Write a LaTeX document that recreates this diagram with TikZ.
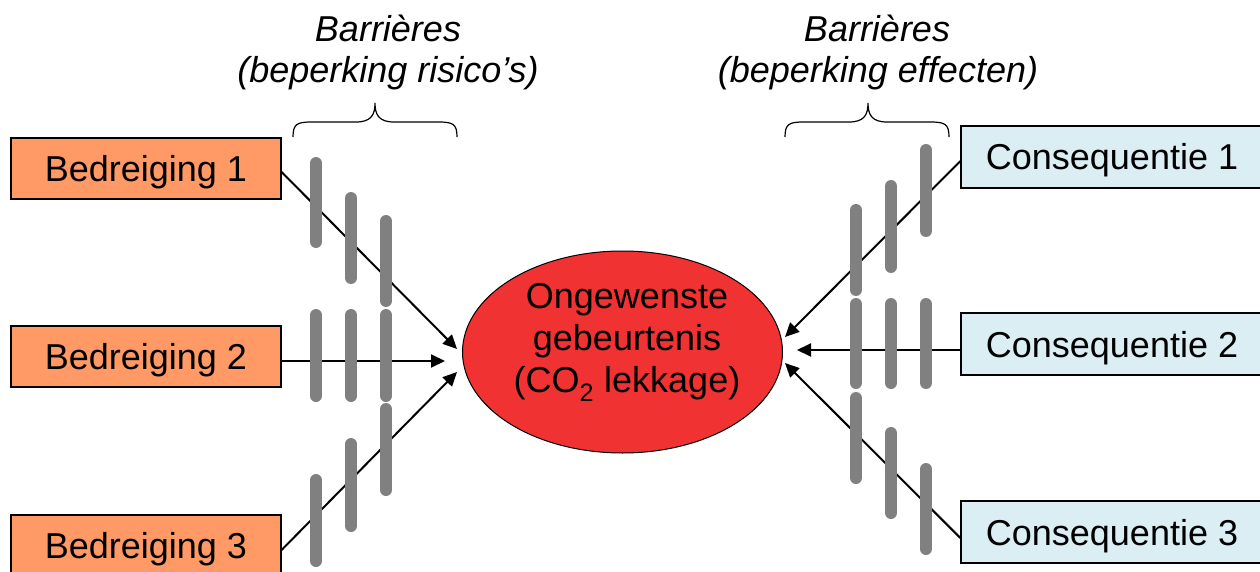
\documentclass[tikz,border=0pt]{standalone}
\usepackage{fontspec}
\setmainfont{Liberation Sans}
\usetikzlibrary{arrows.meta,shapes.geometric}
\definecolor{threatfill}{HTML}{FF9966}
\definecolor{consfill}{HTML}{DAEEF3}
\definecolor{eventfill}{HTML}{F03232}
\definecolor{barriergray}{HTML}{808080}
\tikzset{
  bigfont/.style={font=\fontsize{36}{42}\selectfont},
  threatbox/.style={draw=black, line width=1.2pt, fill=threatfill, minimum width=270pt, minimum height=61pt, inner sep=0pt, text height=26pt, text depth=0pt, bigfont},
  consbox/.style={draw=black, line width=1.2pt, fill=consfill, minimum width=302pt, minimum height=62pt, inner sep=0pt, text height=26pt, text depth=0pt, bigfont},
  eventshape/.style={ellipse, draw=black, line width=1pt, fill=eventfill, minimum width=320pt, minimum height=202pt, inner sep=0pt},
  eventtext/.style={align=center, inner sep=0pt, bigfont},
  toplabel/.style={anchor=base, inner sep=0pt, font=\fontsize{36}{42}\selectfont\itshape},
  flow/.style={line width=2pt, -{Triangle[length=14pt,width=13pt]}},
  barrier/.style={line width=12pt, line cap=round, draw=barriergray},
  bracestyle/.style={line width=1.2pt}
}
\begin{document}
\begin{tikzpicture}[x=1pt,y=-1pt]
\useasboundingbox (0,0) rectangle (1260,572);

% labels above
\node[toplabel] (l1a) at (388,42) {Barrières};
\node[toplabel] (l1b) at (388,83) {(beperking risico’s)};
\node[toplabel] (l2a) at (877,42) {Barrières};
\node[toplabel] (l2b) at (878,83) {(beperking effecten)};

% braces
\draw[bracestyle] (293,137) .. controls (293,124) and (297,122) .. (312,122) -- (356,122) .. controls (371,122) and (375,115) .. (375,103) .. controls (375,115) and (379,122) .. (394,122) -- (438,122) .. controls (453,122) and (457,124) .. (457,137);
\draw[bracestyle] (785,137) .. controls (785,124) and (789,122) .. (804,122) -- (849,122) .. controls (864,122) and (868,115) .. (868,103) .. controls (868,115) and (872,122) .. (887,122) -- (930,122) .. controls (945,122) and (949,124) .. (949,137);

% boxes
\node[threatbox] (b1) at (146,168.5) {Bedreiging 1};
\node[threatbox] (b2) at (146,356.5) {Bedreiging 2};
\node[threatbox] (b3) at (146,545.5) {Bedreiging 3};
\node[consbox] (c1) at (1112,157) {Consequentie 1};
\node[consbox] (c2) at (1112,344) {Consequentie 2};
\node[consbox] (c3) at (1112,532) {Consequentie 3};

% central event
\node[eventshape] (ev) at (622.5,352) {};
\node[eventtext] (evt) at (627,342.5) {Ongewenste\\gebeurtenis\\(CO\textsubscript{2} lekkage)};

% arrow tips
\coordinate (t1) at (457,349);
\coordinate (t2) at (445,361);
\coordinate (t3) at (457,372);
\coordinate (r1) at (785,337);
\coordinate (r2) at (797,350);
\coordinate (r3) at (785,363);

% connectors
\draw[flow] ([yshift=-3.5pt]b1.east) -- (t1);
\draw[flow] ([yshift=-4.5pt]b2.east) -- (t2);
\draw[flow] ([yshift=-4.5pt]b3.east) -- (t3);
\draw[flow] ([yshift=-4pt]c1.west) -- (r1);
\draw[flow] ([yshift=-6pt]c2.west) -- (r2);
\draw[flow] ([yshift=-6pt]c3.west) -- (r3);

% barriers left
\draw[barrier] (316,163) -- (316,242);
\draw[barrier] (316,315) -- (316,396);
\draw[barrier] (316,480) -- (316,561);
\draw[barrier] (351,198) -- (351,278);
\draw[barrier] (351,315) -- (351,396);
\draw[barrier] (351,444) -- (351,526);
\draw[barrier] (386,221) -- (386,301);
\draw[barrier] (386,315) -- (386,396);
\draw[barrier] (386,409) -- (386,490);

% barriers right
\draw[barrier] (856,210) -- (856,290);
\draw[barrier] (856,304) -- (856,383);
\draw[barrier] (856,398) -- (856,478);
\draw[barrier] (891,186) -- (891,267);
\draw[barrier] (891,304) -- (891,383);
\draw[barrier] (891,433) -- (891,513);
\draw[barrier] (926,150) -- (926,231);
\draw[barrier] (926,304) -- (926,383);
\draw[barrier] (926,469) -- (926,549);
\end{tikzpicture}
\end{document}
